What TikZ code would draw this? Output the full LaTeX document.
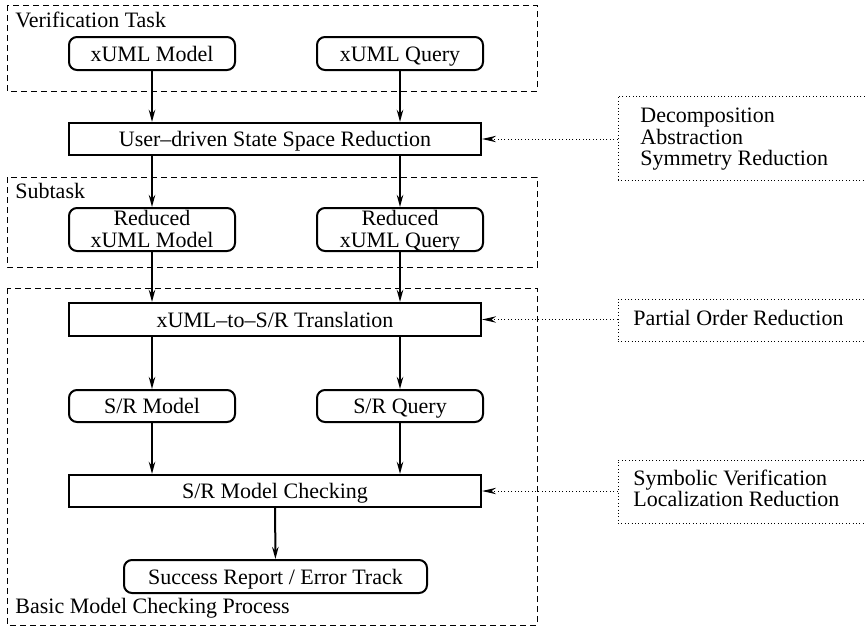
\documentclass[tikz,border=0pt]{standalone}
\usepackage{fontspec}
\setmainfont{Liberation Serif}
\usetikzlibrary{arrows.meta}
\begin{document}
\begin{tikzpicture}[x=0.5pt,y=-0.5pt,
  every node/.style={font=\fontsize{11}{11}\selectfont},
  oneline/.style={text height=8.4pt,text depth=0.5pt},
  rbox/.style={draw,line width=1pt,rounded corners=4pt,minimum width=83pt,inner sep=0pt,align=center},
  pbox/.style={draw,line width=1.1pt,minimum width=206pt,minimum height=16pt,inner sep=0pt,oneline},
  grp/.style={draw,line width=0.5pt,dash pattern=on 3pt off 2pt},
  anbox/.style={draw,line width=0.5pt,dash pattern=on 0.5pt off 1.2pt,minimum width=141pt,inner sep=0pt},
  antext/.style={align=left,inner sep=0pt,anchor=west},
  lbl/.style={anchor=base west,inner sep=0pt},
  flow/.style={line width=1pt,-{Stealth[length=6pt,width=3.2pt]}},
  dotarrow/.style={line width=0.5pt,dash pattern=on 0.5pt off 1.2pt,-{Stealth[length=7pt,width=3.2pt]}}
]
\useasboundingbox (0,0) rectangle (865,627);
\clip (0,0) rectangle (865,627);

% groups
\draw[grp] (7,5) rectangle (537,91);
\draw[grp] (7,177) rectangle (537,267);
\draw[grp] (7,288) rectangle (537,625);
\node[lbl] (lv) at (15,27) {Verification Task};
\node[lbl] (ls) at (15,198) {Subtask};
\node[lbl] (lb) at (15,613) {Basic Model Checking Process};

% nodes
\node[rbox,oneline,minimum height=16.5pt] (xm) at (152,53.5) {xUML Model};
\node[rbox,oneline,minimum height=16.5pt] (xq) at (400,53.5) {xUML Query};
\node[pbox] (ur) at (275,139) {User--driven State Space Reduction};
\node[rbox,text depth=0.5pt,minimum height=21.5pt] (rm) at (152,229.5) {Reduced\\[-0.25pt]xUML Model};
\node[rbox,text depth=0.5pt,minimum height=21.5pt] (rq) at (400,229.5) {Reduced\\[-0.25pt]xUML Query};
\node[pbox,minimum height=16.5pt] (tr) at (275,319.5) {xUML--to--S/R Translation};
\node[rbox,oneline,minimum height=16pt] (sm) at (152,406) {S/R Model};
\node[rbox,oneline,minimum height=16pt] (sq) at (400,406) {S/R Query};
\node[pbox] (mc) at (275,491) {S/R Model Checking};
\node[rbox,oneline,minimum width=151.5pt,minimum height=16.5pt] (sr) at (275.5,576.5) {Success Report / Error Track};

% annotation boxes
\node[anbox,minimum height=42pt] (a1) at (759,138) {};
\node[antext] (a1t) at (640,139.5) {Decomposition\\[-0.25pt]Abstraction\\[-0.25pt]Symmetry Reduction};
\node[anbox,minimum height=21pt] (a2) at (759,320) {};
\node[lbl] (a2t) at (633,325) {Partial Order Reduction};
\node[anbox,minimum height=31.5pt] (a3) at (759,491.5) {};
\node[antext] (a3t) at (633,488.5) {Symbolic Verification\\[-0.25pt]Localization Reduction};

% flows
\draw[flow] (xm) -- (xm |- ur.north);
\draw[flow] (xq) -- (xq |- ur.north);
\draw[flow] (xm |- ur.south) -- (rm);
\draw[flow] (xq |- ur.south) -- (rq);
\draw[flow] (rm) -- (rm |- tr.north);
\draw[flow] (rq) -- (rq |- tr.north);
\draw[flow] (xm |- tr.south) -- (sm);
\draw[flow] (xq |- tr.south) -- (sq);
\draw[flow] (sm) -- (sm |- mc.north);
\draw[flow] (sq) -- (sq |- mc.north);
\draw[flow] (mc) -- (sr);

% annotation arrows
\draw[dotarrow] (a1.west |- ur.east) -- (ur.east);
\draw[dotarrow] (a2.west |- tr.east) -- (tr.east);
\draw[dotarrow] (a3.west |- mc.east) -- (mc.east);
\end{tikzpicture}
\end{document}
